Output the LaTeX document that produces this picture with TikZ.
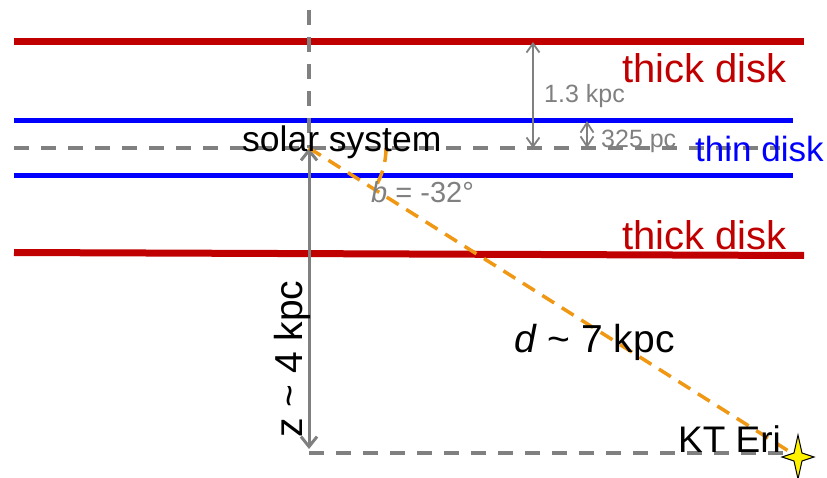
\documentclass[tikz,border=0pt]{standalone}
\usepackage{fontspec}
\setmainfont{Liberation Sans}
\usetikzlibrary{arrows.meta,calc}
\definecolor{thickred}{RGB}{192,0,0}
\definecolor{thinblue}{RGB}{0,0,255}
\definecolor{dgray}{RGB}{128,128,128}
\definecolor{orng}{RGB}{240,152,20}
\begin{document}
\begin{tikzpicture}[x=1pt,y=-1pt,
  reddisk/.style={draw=thickred, line width=7pt},
  bluedisk/.style={draw=thinblue, line width=5pt},
  grdash/.style={draw=dgray, line width=3.5pt, dash pattern=on 15pt off 12pt},
  orngdash/.style={draw=orng, line width=3.5pt, dash pattern=on 14pt off 9pt},
  bigarrow/.style={draw=dgray, line width=3pt,
     {Straight Barb[length=10pt,width=16pt]}-{Straight Barb[length=10pt,width=16pt]}},
  smallarrow/.style={draw=dgray, line width=1.8pt,
     {Straight Barb[length=9pt,width=13pt]}-{Straight Barb[length=9pt,width=13pt]}},
  tinyarrow/.style={draw=dgray, line width=1.8pt,
     {Straight Barb[length=10pt,width=13pt]}-{Straight Barb[length=10pt,width=13pt]}},
  lbl/.style={inner sep=0pt, anchor=base west},
  redlbl/.style={lbl, text=thickred, font=\fontsize{40}{42}\selectfont},
  bluelbl/.style={lbl, text=thinblue, font=\fontsize{35}{38}\selectfont},
  graylbl/.style={lbl, text=dgray, font=\fontsize{25}{28}\selectfont},
  blacklbl/.style={lbl, text=black, font=\fontsize{39}{42}\selectfont},
  starshape/.style={fill=yellow, draw=black, line width=1pt, line join=miter}
]
\useasboundingbox (0,0) rectangle (827,478);

% coordinates
\coordinate (solar) at (309,148);
\coordinate (vtop) at (309,10);
\coordinate (hleft) at (14,148);
\coordinate (hright) at (780,148);
\coordinate (zbottom) at (309,453);
\coordinate (zarrow) at (309,449);
\coordinate (kt) at (798,457);

% disk lines
\draw[reddisk] (14,42) coordinate (tkl) -- (804,42) coordinate (tkr);
\draw[reddisk] (14,252.5) coordinate (bkl) -- (804,255.5) coordinate (bkr);
\draw[bluedisk] (14,121) coordinate (tnl) -- (793,121) coordinate (tnr);
\draw[bluedisk] (14,175.5) coordinate (bnl) -- (793,175.5) coordinate (bnr);

% gray dashed reference lines
\draw[grdash] (hleft) -- (hright);
\draw[grdash] (vtop) -- (solar);
\draw[grdash] (zbottom) -- (kt |- zbottom);

% height arrows
\coordinate (a13t) at (533,42);
\coordinate (a13b) at (533,148);
\draw[smallarrow] (a13t) -- (a13b);
\coordinate (a325t) at (587,121);
\coordinate (a325b) at (587,148);
\draw[tinyarrow] (a325t) -- (a325b);
\draw[bigarrow] (solar) -- (zarrow);

% line of sight and angle
\draw[orngdash] (solar) -- (kt);
\draw[orngdash] (solar) ++(77,0) arc[start angle=0, end angle=32, radius=77];

% star
\fill[starshape] (kt) ++(0,-22) -- ++(4,18) -- ++(12,4) -- ++(-12,4)
   -- ++(-4,18) -- ++(-4,-18) -- ++(-12,-4) -- ++(12,-4) -- cycle;

% labels
\node[redlbl] (thick1) at (622,83) {thick disk};
\node[redlbl] (thick2) at (622,250) {thick disk};
\node[bluelbl] (thin) at (695,162) {thin disk};
\node[graylbl] (l13) at (544,103) {1.3 kpc};
\node[graylbl] (l325) at (601,148) {325 pc};
\node[lbl, font=\fontsize{35.5}{38}\selectfont] (solarlbl) at (242,152) {solar system};
\node[lbl, text=dgray, font=\fontsize{29}{31}\selectfont] (blbl) at (371,203) {\textit{b} = -32°};
\node[blacklbl] (dlbl) at (514,352) {\textit{d} \textasciitilde{} 7 kpc};
\node[blacklbl, rotate=90] (zlbl) at (302,438) {z \textasciitilde{} 4 kpc};
\node[lbl, font=\fontsize{37}{40}\selectfont] (ktlbl) at (678,452) {KT Eri};
\end{tikzpicture}
\end{document}
